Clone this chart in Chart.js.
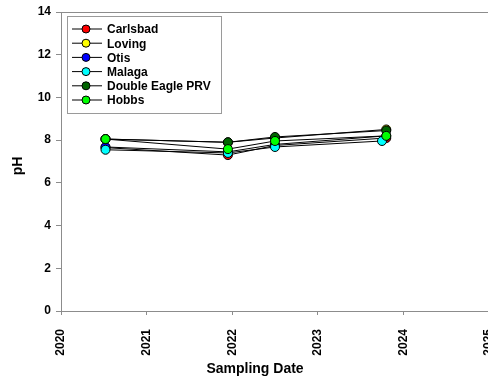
<!DOCTYPE html>
<html>
<head>
<meta charset="utf-8">
<script src="https://cdn.jsdelivr.net/npm/chart.js@4/dist/chart.umd.min.js"></script>
<style>
  html, body { margin: 0; padding: 0; background: #fff; overflow: hidden; }
  #wrap { width: 488px; height: 383px; overflow: hidden; }
</style>
</head>
<body>
<div id="wrap"><canvas id="phChart" width="500" height="383"></canvas></div>
<script>
// sampling dates as decimal years
const dates = [2020.52, 2021.95, 2022.5, 2023.8];
const malagaDates = [2020.52, 2021.95, 2022.5, 2023.75];

const siteNames = ['Carlsbad', 'Loving', 'Otis', 'Malaga', 'Double Eagle PRV', 'Hobbs'];
const siteColors = ['#ff0000', '#ffff00', '#0000ff', '#00ffff', '#006400', '#00ff00'];

const carlsbad = [7.65, 7.30, 7.75, 8.10];
const loving = [8.05, 7.90, 8.10, 8.50];
const otis = [7.68, 7.45, 7.80, 8.20];
const malaga = [7.55, 7.40, 7.68, 7.96];
const doubleEagle = [8.05, 7.90, 8.15, 8.45];
const hobbs = [8.05, 7.58, 7.96, 8.20];

const yTicks = [0, 2, 4, 6, 8, 10, 12, 14];
const xTicks = [2020, 2021, 2022, 2023, 2024, 2025];

const seriesVals = [carlsbad, loving, otis, malaga, doubleEagle, hobbs];

const FONT = 'Liberation Sans, Arial, sans-serif';
const AXIS_GRAY = '#8c8c8c';

const datasets = seriesVals.map((vals, i) => {
    const xs = siteNames[i] === 'Malaga' ? malagaDates : dates;
    return {
        label: siteNames[i],
        data: vals.map((v, j) => ({ x: xs[j], y: v })),
        order: seriesVals.length - i, // later sites drawn on top
        borderColor: '#000',
        borderWidth: 1,
        backgroundColor: siteColors[i],
        pointBackgroundColor: siteColors[i],
        pointBorderColor: '#000',
        pointBorderWidth: 1,
        pointRadius: 4.5,
        tension: 0
    };
});

// legend box, axis titles and top frame line
const decor = {
    id: 'decor',
    afterDraw(chart){
        const c = chart.ctx;
        const area = chart.chartArea;
        c.save();
        // top frame
        c.strokeStyle = AXIS_GRAY;
        c.lineWidth = 1;
        c.beginPath();
        c.moveTo(area.left, area.top + 0.5);
        c.lineTo(chart.width, area.top + 0.5);
        c.stroke();

        // legend
        c.strokeStyle = '#9a9a9a';
        c.strokeRect(67.5, 16.5, 154, 97);
        c.font = 'bold 12px ' + FONT;
        c.textBaseline = 'middle';
        c.textAlign = 'left';
        chart.data.datasets.forEach((ds, i) => {
            const y = 29 + i * 14.2;
            c.strokeStyle = '#000';
            c.beginPath();
            c.moveTo(72, y);
            c.lineTo(102, y);
            c.stroke();
            c.beginPath();
            c.arc(86, y, 4, 0, Math.PI * 2);
            c.fillStyle = ds.pointBackgroundColor;
            c.fill();
            c.stroke();
            c.fillStyle = '#000';
            c.fillText(ds.label, 107, y + 1);
        });

        // axis titles
        c.fillStyle = '#000';
        c.font = 'bold 14px ' + FONT;
        c.textAlign = 'center';
        c.fillText('Sampling Date', 255, 369);
        c.translate(18, 166);
        c.rotate(-Math.PI / 2);
        c.fillText('pH', 0, 0);
        c.restore();
    }
};

new Chart(document.getElementById('phChart'), {
    type: 'line',
    data: { datasets },
    plugins: [decor],
    options: {
        responsive: false,
        animation: false,
        devicePixelRatio: 1,
        layout: { padding: { top: 12, right: 11, left: 0, bottom: 0 } },
        plugins: { legend: { display: false }, tooltip: { enabled: false } },
        scales: {
            x: {
                type: 'linear',
                min: 2020,
                max: 2025,
                afterFit(s){ s.height = 72; s.paddingLeft = 0; s.paddingRight = 0; },
                afterBuildTicks(s){ s.ticks = xTicks.map(v => ({ value: v })); },
                ticks: {
                    color: '#000',
                    font: { family: FONT, size: 12, weight: 'bold' },
                    minRotation: 90,
                    maxRotation: 90,
                    padding: 14,
                    autoSkip: false,
                    callback: v => String(v)
                },
                grid: { display: true, drawOnChartArea: false, color: AXIS_GRAY, tickLength: 4 },
                border: { color: AXIS_GRAY }
            },
            y: {
                min: 0,
                max: 14,
                afterFit(s){ s.width = 61; s.paddingTop = 0; s.paddingBottom = 0; },
                afterBuildTicks(s){ s.ticks = yTicks.map(v => ({ value: v })); },
                ticks: {
                    color: '#000',
                    font: { family: FONT, size: 12, weight: 'bold' },
                    padding: 5
                },
                grid: { display: true, drawOnChartArea: false, color: AXIS_GRAY, tickLength: 5 },
                border: { color: AXIS_GRAY }
            }
        }
    }
});
</script>
</body>
</html>
